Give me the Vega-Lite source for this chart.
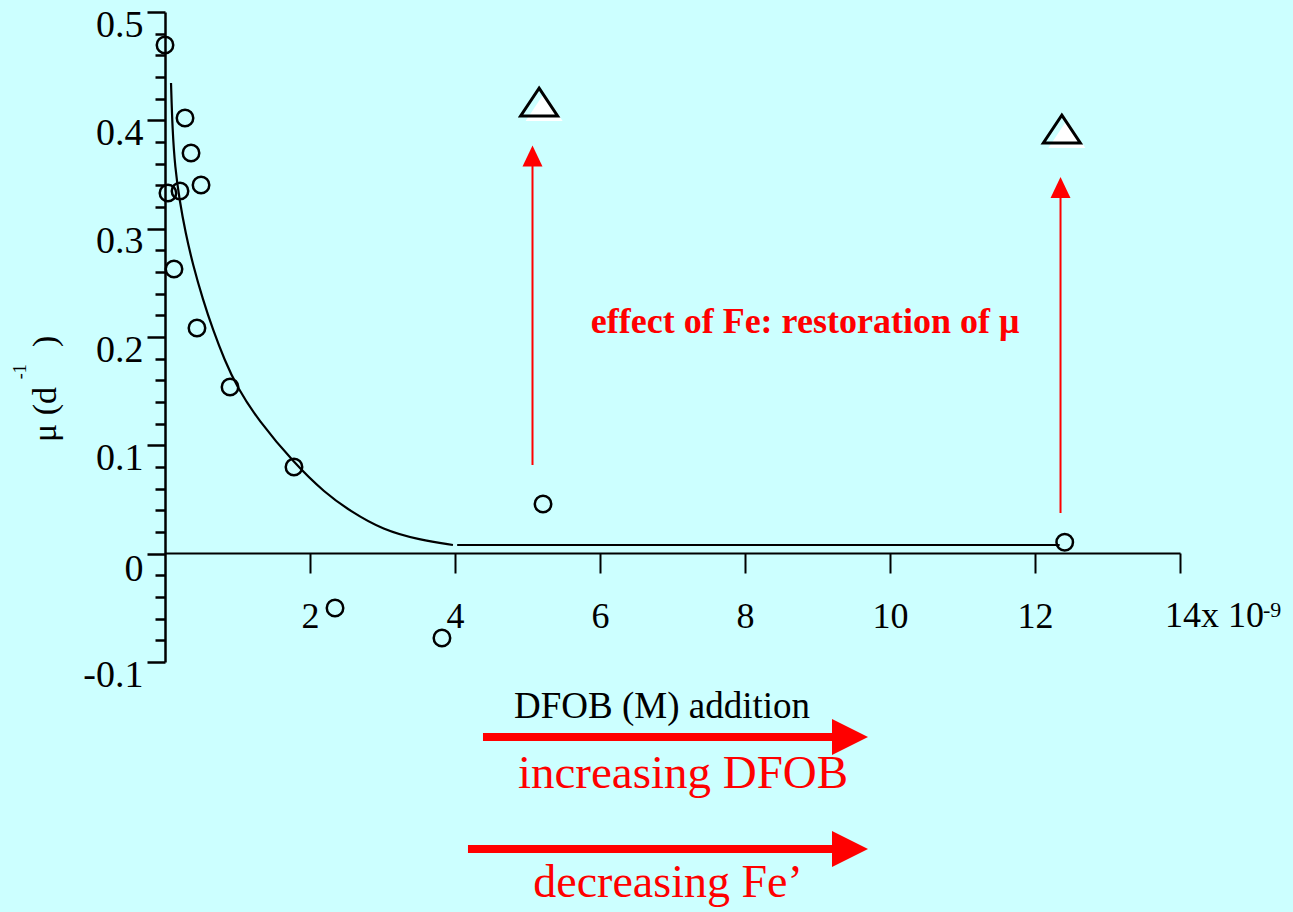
{
  "$schema": "https://vega.github.io/schema/vega-lite/v6.json",
  "width": 1015,
  "height": 650,
  "autosize": {"type": "none"},
  "padding": {"left": 165, "top": 12, "right": 113, "bottom": 250},
  "background": "#ccffff",
  "config": {"view": {"stroke": null}, "font": "Liberation Serif"},
  "encoding": {
    "x": {
      "field": "x", "type": "quantitative",
      "scale": {"domain": [0, 14], "nice": false, "zero": false},
      "axis": {
        "title": null, "grid": false, "offset": -109,
        "values": [2, 4, 6, 8, 10, 12, 14],
        "labelExpr": "datum.value == 14 ? '' : datum.label",
        "domainColor": "black", "domainWidth": 2,
        "tickColor": "black", "tickWidth": 2, "tickSize": 20,
        "labelFont": "Liberation Serif", "labelFontSize": 36, "labelColor": "black",
        "labelPadding": 26, "labelFlush": false, "labelOverlap": false, "labelBound": false
      }
    },
    "y": {
      "field": "y", "type": "quantitative",
      "scale": {"domain": [-0.1, 0.5], "nice": false, "zero": false},
      "axis": {
        "title": null, "grid": false,
        "values": [-0.1, -0.08, -0.06, -0.04, -0.02, 0, 0.02, 0.04, 0.06, 0.08, 0.1, 0.12, 0.14, 0.16, 0.18, 0.2, 0.22, 0.24, 0.26, 0.28, 0.3, 0.32, 0.34, 0.36, 0.38, 0.4, 0.42, 0.44, 0.46, 0.48, 0.5],
        "labelExpr": "abs(datum.value*10 - round(datum.value*10)) < 0.001 ? (abs(datum.value) < 0.001 ? '0' : (datum.value < 0 ? '-0.1' : format(datum.value, '.1f'))) : ''",
        "domainColor": "black", "domainWidth": 2.5,
        "tickColor": "black", "tickWidth": 2.5,
        "tickSize": {"condition": {"test": "abs(datum.value*10 - round(datum.value*10)) < 0.001", "value": 18}, "value": 10},
        "labelOffset": {"condition": {"test": "abs(datum.value) < 0.001", "value": 16}, "value": 13},
        "labelFont": "Liberation Serif", "labelFontSize": 38, "labelColor": "black",
        "labelPadding": 4, "labelOverlap": false, "labelBound": false, "labelFlush": false
      }
    }
  },
  "layer": [
    {
      "data": {"values": [
        {"seg": "curve", "x": 0.083, "y": 0.4345},
        {"seg": "curve", "x": 0.103, "y": 0.3911},
        {"seg": "curve", "x": 0.138, "y": 0.3569},
        {"seg": "curve", "x": 0.2, "y": 0.3265},
        {"seg": "curve", "x": 0.283, "y": 0.296},
        {"seg": "curve", "x": 0.386, "y": 0.2665},
        {"seg": "curve", "x": 0.524, "y": 0.2342},
        {"seg": "curve", "x": 0.662, "y": 0.2065},
        {"seg": "curve", "x": 0.821, "y": 0.1788},
        {"seg": "curve", "x": 0.993, "y": 0.1538},
        {"seg": "curve", "x": 1.283, "y": 0.1234},
        {"seg": "curve", "x": 1.779, "y": 0.0837},
        {"seg": "curve", "x": 2.207, "y": 0.056},
        {"seg": "curve", "x": 2.552, "y": 0.0394},
        {"seg": "curve", "x": 3.007, "y": 0.0218},
        {"seg": "curve", "x": 3.517, "y": 0.0126},
        {"seg": "curve", "x": 3.972, "y": 0.008},
        {"seg": "flat", "x": 4.03, "y": 0.008},
        {"seg": "flat", "x": 12.34, "y": 0.008}
      ]},
      "mark": {"type": "line", "color": "black", "strokeWidth": 2.2, "interpolate": "basis"},
      "encoding": {"detail": {"field": "seg"}}
    },
    {
      "data": {"values": [
        {"x": 0.0, "y": 0.4695},
        {"x": 0.276, "y": 0.4021},
        {"x": 0.359, "y": 0.3698},
        {"x": 0.497, "y": 0.3403},
        {"x": 0.041, "y": 0.3329},
        {"x": 0.207, "y": 0.3348},
        {"x": 0.124, "y": 0.2628},
        {"x": 0.441, "y": 0.2083},
        {"x": 0.897, "y": 0.1538},
        {"x": 1.779, "y": 0.08},
        {"x": 2.345, "y": -0.0502},
        {"x": 3.82, "y": -0.0779},
        {"x": 5.214, "y": 0.0458},
        {"x": 12.41, "y": 0.0105}
      ]},
      "mark": {"type": "point", "shape": "circle", "filled": false, "stroke": "black", "strokeWidth": 2.5, "size": 272, "opacity": 1}
    },
    {
      "data": {"values": [{"x": 5.16, "y": 0.4169}, {"x": 12.37, "y": 0.392}]},
      "mark": {"type": "point", "shape": "M0,-0.75L1,0.75L-1,0.75Z", "filled": true, "fill": "white", "strokeWidth": 0, "size": 1369, "opacity": 1, "xOffset": 5, "yOffset": 5}
    },
    {
      "data": {"values": [{"x": 5.16, "y": 0.4169}, {"x": 12.37, "y": 0.392}]},
      "mark": {"type": "point", "shape": "M0,-0.75L1,0.75L-1,0.75Z", "filled": false, "stroke": "black", "strokeWidth": 3, "size": 1369, "opacity": 1}
    },
    {
      "data": {"values": [{"x": 5.069, "y": 0.0818, "y2": 0.36}, {"x": 12.352, "y": 0.0375, "y2": 0.33}]},
      "mark": {"type": "rule", "color": "#ff0000", "strokeWidth": 2},
      "encoding": {"y2": {"field": "y2"}}
    },
    {
      "data": {"values": [{"x": 5.069, "y": 0.3671}, {"x": 12.352, "y": 0.338}]},
      "mark": {"type": "point", "shape": "M0,-1L0.95,1L-0.95,1Z", "filled": true, "fill": "#ff0000", "strokeWidth": 0, "size": 441, "opacity": 1}
    },
    {
      "data": {"values": [{"x": 4.386, "x2": 9.24, "y": -0.1692}, {"x": 4.179, "x2": 9.24, "y": -0.2726}]},
      "mark": {"type": "rule", "color": "#ff0000", "strokeWidth": 8},
      "encoding": {"x2": {"field": "x2"}}
    },
    {
      "data": {"values": [{"x": 9.448, "y": -0.1692}, {"x": 9.448, "y": -0.2726}]},
      "mark": {"type": "point", "shape": "M1,0L-1,-1L-1,1Z", "filled": true, "fill": "#ff0000", "strokeWidth": 0, "size": 1296, "opacity": 1}
    },
    {
      "data": {"values": [{"x": 8.828, "y": 0.2037, "label": "effect of Fe: restoration of μ"}]},
      "mark": {"type": "text", "font": "Liberation Serif", "fontSize": 36, "fontWeight": "bold", "color": "#ff0000", "align": "center", "baseline": "alphabetic"},
      "encoding": {"text": {"field": "label"}}
    },
    {
      "data": {"values": [{"x": 6.855, "y": -0.1517, "label": "DFOB (M) addition"}]},
      "mark": {"type": "text", "font": "Liberation Serif", "fontSize": 37, "color": "black", "align": "center", "baseline": "alphabetic"},
      "encoding": {"text": {"field": "label"}}
    },
    {
      "data": {"values": [{"x": 7.145, "y": -0.2163, "label": "increasing DFOB"}]},
      "mark": {"type": "text", "font": "Liberation Serif", "fontSize": 47, "color": "#ff0000", "align": "center", "baseline": "alphabetic"},
      "encoding": {"text": {"field": "label"}}
    },
    {
      "data": {"values": [{"x": 6.938, "y": -0.317, "label": "decreasing Fe’"}]},
      "mark": {"type": "text", "font": "Liberation Serif", "fontSize": 46, "color": "#ff0000", "align": "center", "baseline": "alphabetic"},
      "encoding": {"text": {"field": "label"}}
    },
    {
      "data": {"values": [{"x": 13.793, "y": -0.0677, "label": "14x 10"}]},
      "mark": {"type": "text", "font": "Liberation Serif", "fontSize": 36, "color": "black", "align": "left", "baseline": "alphabetic"},
      "encoding": {"text": {"field": "label"}}
    },
    {
      "data": {"values": [{"x": 15.145, "y": -0.0585, "label": "-9"}]},
      "mark": {"type": "text", "font": "Liberation Serif", "fontSize": 22, "color": "black", "align": "left", "baseline": "alphabetic"},
      "encoding": {"text": {"field": "label"}}
    },
    {
      "data": {"values": [
        {"x": -1.503, "y": 0.1031, "label": "μ (d"},
        {"x": -1.503, "y": 0.1908, "label": ")"}
      ]},
      "mark": {"type": "text", "font": "Liberation Serif", "fontSize": 34, "color": "black", "align": "left", "baseline": "alphabetic", "angle": 270},
      "encoding": {"text": {"field": "label"}}
    },
    {
      "data": {"values": [{"x": -1.917, "y": 0.161, "label": "-1"}]},
      "mark": {"type": "text", "font": "Liberation Serif", "fontSize": 18, "color": "black", "align": "left", "baseline": "alphabetic", "angle": 270},
      "encoding": {"text": {"field": "label"}}
    }
  ]
}
